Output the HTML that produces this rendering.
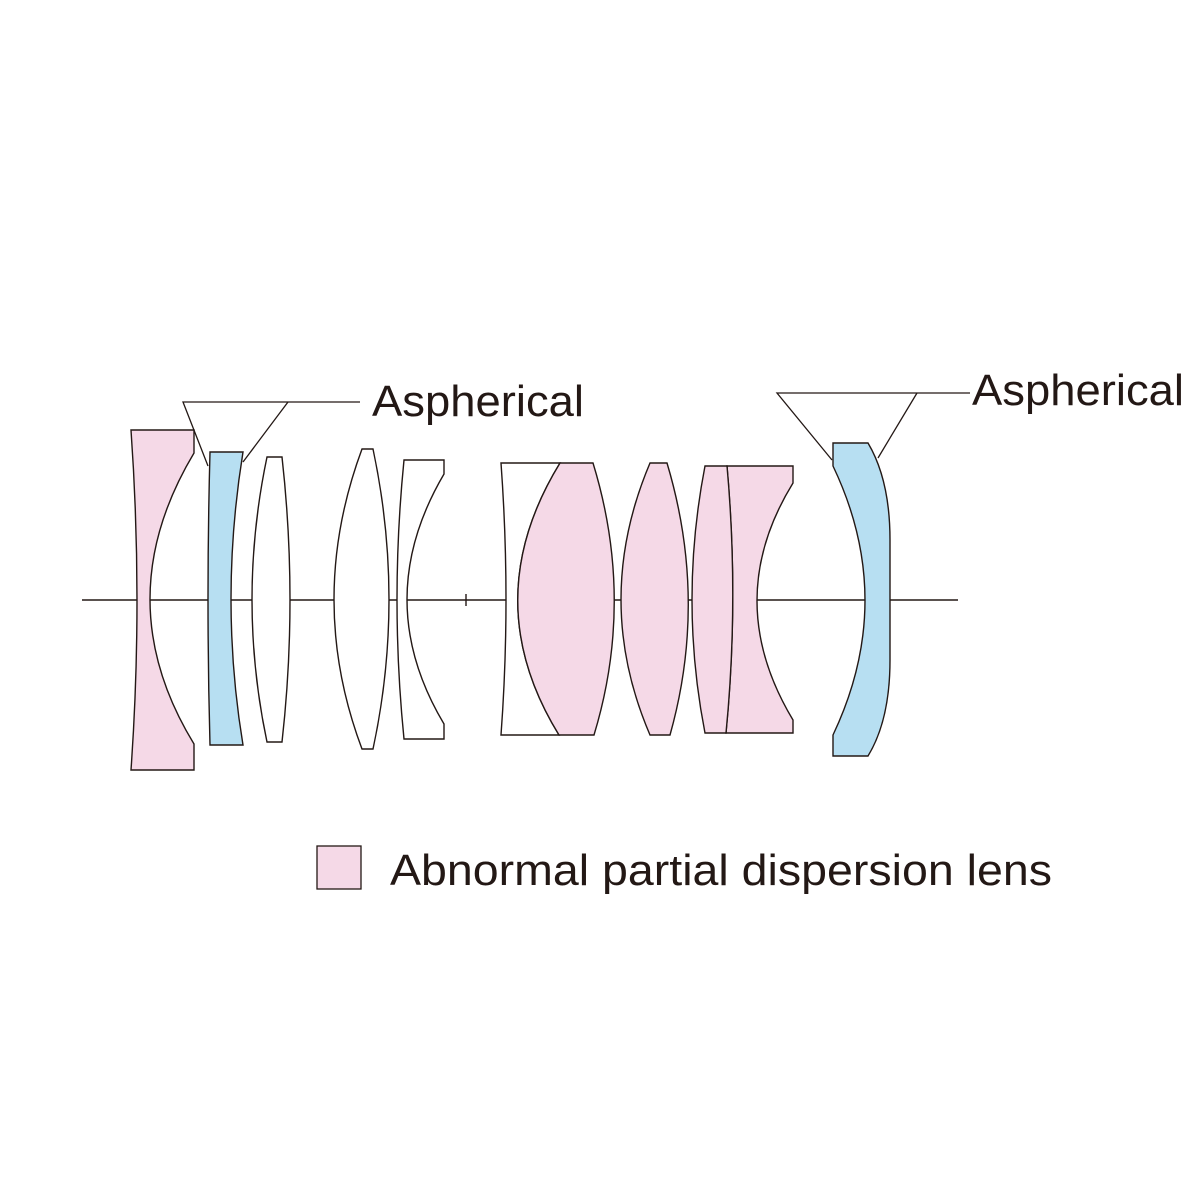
<!DOCTYPE html>
<html><head><style>html,body{margin:0;padding:0;background:#fff}svg{display:block}</style></head>
<body>
<svg width="1200" height="1200" viewBox="0 0 1200 1200" xmlns="http://www.w3.org/2000/svg">
<g stroke="#231815" stroke-width="1.4" fill="none">
<line x1="82" y1="600" x2="958" y2="600"/>
<line x1="466" y1="594" x2="466" y2="606"/>
</g>
<g stroke="#231815" stroke-width="1.4" stroke-linejoin="miter">
<path d="M131,430 L194,430 L194,453 Q106,600 194,744 L194,770 L131,770 Q143,600 131,430 Z" fill="#f5d9e7"/>
<path d="M210,452 L243,452 Q219,600 243,745 L210,745 Q206,600 210,452 Z" fill="#b7dff2"/>
<path d="M267,457 L282,457 Q298,600 282,742 L267,742 Q237,600 267,457 Z" fill="#fff"/>
<path d="M362,449 L373,449 Q405,600 373,749 L362,749 Q306,600 362,449 Z" fill="#fff"/>
<path d="M404,460 L444,460 L444,474 Q370,600 444,724 L444,739 L404,739 Q390,600 404,460 Z" fill="#fff"/>
<path d="M501,463 L560,463 Q476,600 559,735 L501,735 Q511,600 501,463 Z" fill="#fff"/>
<path d="M560,463 L593,463 Q635,600 594,735 L559,735 Q476,600 560,463 Z" fill="#f5d9e7"/>
<path d="M650,463 L667,463 Q708,600 670,735 L650,735 Q592,600 650,463 Z" fill="#f5d9e7"/>
<path d="M727,466 L793,466 L793,483 Q721,600 793,720 L793,733 L726,733 Q739,600 727,466 Z" fill="#f5d9e7"/>
<path d="M705,466 L727,466 Q739,600 726,733 L705,733 Q679,600 705,466 Z" fill="#f5d9e7"/>
<path d="M833,443 L868,443 Q890,480 890,540 L890,660 Q890,720 868,756 L833,756 L833,735 Q897,600 833,466 Z" fill="#b7dff2"/>
</g>
<g stroke="#231815" stroke-width="1.3" fill="none">
<polyline points="360,402 183,402 208,466"/>
<line x1="288" y1="402" x2="243" y2="462"/>
<polyline points="970,393 777,393 832,460"/>
<line x1="917" y1="393" x2="878" y2="458"/>
</g>
<g font-family="Liberation Sans, sans-serif" fill="#231815">
<text x="372" y="416" font-size="44" textLength="212" lengthAdjust="spacingAndGlyphs">Aspherical</text>
<text x="972" y="405" font-size="44" textLength="212" lengthAdjust="spacingAndGlyphs">Aspherical</text>
<text x="390" y="885" font-size="44" textLength="662" lengthAdjust="spacingAndGlyphs">Abnormal partial dispersion lens</text>
</g>
<rect x="317" y="846" width="44" height="43" fill="#f5d9e7" stroke="#231815" stroke-width="1.3"/>
</svg>
</body></html>
